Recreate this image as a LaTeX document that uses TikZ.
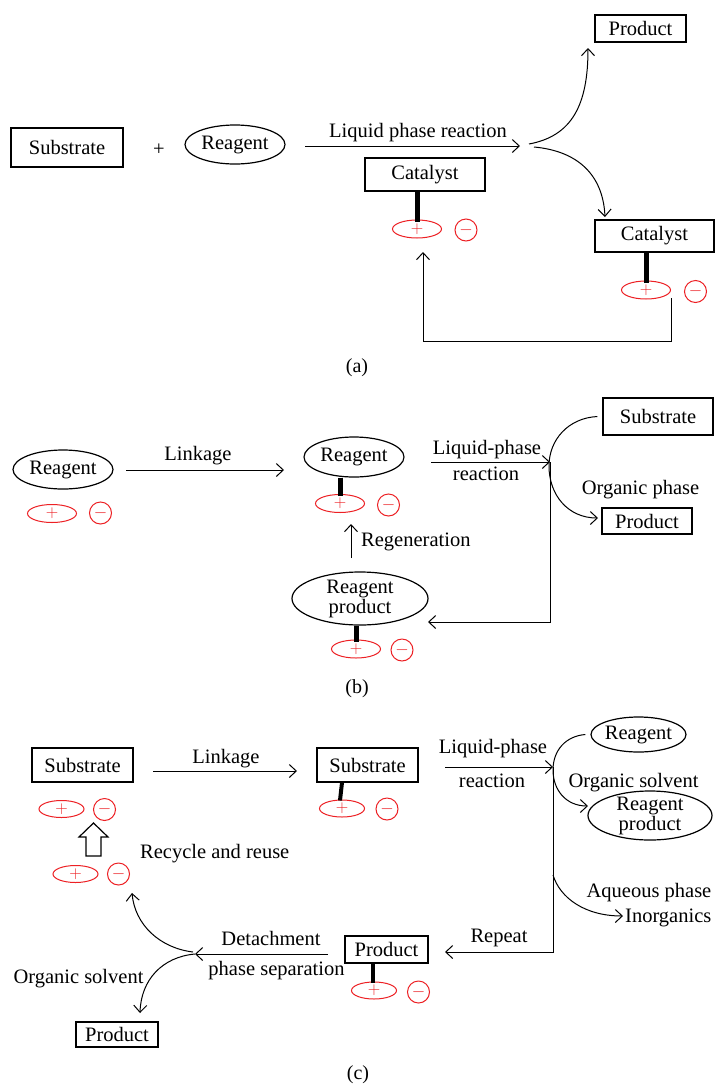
\documentclass[tikz,border=0pt]{standalone}
\usepackage{fontspec}
\setmainfont{Liberation Serif}
\usetikzlibrary{arrows.meta,shapes.geometric}
\newcommand\myfs{\fontsize{20.5}{20}\selectfont}
\newcommand\ionfs{\fontsize{16}{16}\selectfont}
\newcommand\capfs{\fontsize{20}{20}\selectfont}
\definecolor{ionred}{RGB}{237,32,36}
\begin{document}
\begin{tikzpicture}[x=1pt,y=-1pt,font=\myfs,
 mybox/.style={draw,line width=1.2pt,inner sep=0pt},
 myell/.style={ellipse,draw,line width=1.2pt,inner sep=0pt},
 ionpos/.style={ellipse,draw=ionred,line width=1pt,minimum width=49pt,minimum height=18pt,inner sep=0pt,text=ionred,font=\ionfs},
 ionneg/.style={circle,draw=ionred,line width=1pt,minimum size=22pt,inner sep=0pt,text=ionred,font=\ionfs},
 thickbar/.style={line width=5pt},
 myarr/.style={line width=1pt,-{Straight Barb[length=7pt,width=13pt,line width=1pt]}},
 mylbl/.style={anchor=base,inner sep=0pt}]
\useasboundingbox (0,0) rectangle (715,1085);
\fill[white] (0,0) rectangle (715,1085);
% ---------------- (a)
\node[mybox,minimum width=112pt,minimum height=39pt] (sA) at (67,147.5) {Substrate};
\node (plusA) at (159,150) {+};
\node[myell,minimum width=100pt,minimum height=39pt] (rA) at (235,144.5) {Reagent};
\coordinate (aS) at (305,146);
\coordinate (aT) at (520,146);
\draw[myarr] (aS) -- (aT);
\node[mylbl] (tLPR) at (418,137) {Liquid phase reaction};
\node[mybox,minimum width=91pt,minimum height=27pt] (pA) at (640.5,28.5) {Product};
\node[mybox,minimum width=120pt,minimum height=33pt] (cA) at (425,174.5) {Catalyst};
\node[mybox,minimum width=119pt,minimum height=32pt] (cB) at (654.5,236) {Catalyst};
\node[ionpos] (ipA1) at (417,229) {$+$};
\node[ionneg] (inA1) at (466,230) {$-$};
\node[ionpos] (ipA2) at (646,290) {$+$};
\node[ionneg] (inA2) at (695.5,291.5) {$-$};
\draw[thickbar] (ipA1.north |- cA.south) -- ([yshift=-2pt]ipA1.north);
\draw[thickbar] (ipA2.north |- cB.south) -- ([yshift=-2pt]ipA2.north);
\coordinate (jA1) at (529,144);
\coordinate (jA2) at (534,147);
\coordinate (tPA) at (588,48);
\coordinate (tCB) at (605,217);
\draw[myarr] (jA1) .. controls (572,136) and (588,105) .. (tPA);
\draw[myarr] (jA2) .. controls (578,151) and (603,175) .. (tCB);
\coordinate (lpR) at (671,341);
\coordinate (lpL) at (423,341);
\coordinate (tIA) at (423,252);
\draw[myarr] ([yshift=-8pt]ipA2.east) -- (lpR) -- (lpL) -- (tIA);
\node[font=\capfs] (labA) at (357,368) {(a)};
% ---------------- (b)
\node[myell,minimum width=100pt,minimum height=39pt] (rB1) at (63,469.5) {Reagent};
\node[ionpos] (ipB1) at (52,513.5) {$+$};
\node[ionneg] (inB1) at (100.5,513) {$-$};
\coordinate (lkB1) at (126,470);
\coordinate (lkB2) at (284,470);
\draw[myarr] (lkB1) -- (lkB2);
\node[mylbl] (tLkB) at (198,460) {Linkage};
\node[myell,minimum width=100pt,minimum height=40pt] (rB2) at (354,457) {Reagent};
\node[ionpos] (ipB2) at (340,503.5) {$+$};
\node[ionneg] (inB2) at (388.5,505) {$-$};
\draw[thickbar] (ipB2.north |- rB2.south) -- ([yshift=-2pt]ipB2.north);
\coordinate (rgS) at (351,558);
\coordinate (rgT) at (351,524);
\draw[myarr] (rgS) -- (rgT);
\node[mylbl,anchor=base west] (tRg) at (361,546) {Regeneration};
\node[myell,minimum width=136pt,minimum height=53pt,align=center,inner ysep=-3pt] (rpB) at (360,598.5) {Reagent\\product};
\node[ionpos] (ipB3) at (356,649) {$+$};
\node[ionneg] (inB3) at (402,650) {$-$};
\draw[thickbar] (ipB3.north |- rpB.south) -- ([yshift=-2pt]ipB3.north);
\coordinate (lqB1) at (431,462);
\coordinate (jB) at (550,462);
\draw[myarr] (lqB1) -- (jB);
\node[mylbl] (tLqB) at (487,454) {Liquid-phase};
\node[mylbl] (tRxB) at (486,480) {reaction};
\node[mybox,minimum width=110pt,minimum height=37pt] (sB) at (658,416.5) {Substrate};
\node[mybox,minimum width=90pt,minimum height=26pt] (pB) at (647,521) {Product};
\node[mylbl] (tOpB) at (640.5,494) {Organic phase};
\coordinate (tPB) at (598,518);
\draw[myarr] ([xshift=-5pt]sB.west) .. controls (568,418) and (549,440) .. (549,466) .. controls (549,495) and (568,518) .. (tPB);
\coordinate (dnB) at (550,622);
\coordinate (tRpB) at (428,622);
\draw[myarr] (jB) -- (dnB) -- (tRpB);
\node[font=\capfs] (labB) at (357,689) {(b)};
% ---------------- (c)
\node[mybox,minimum width=101pt,minimum height=34pt] (sC1) at (82.5,765) {Substrate};
\node[ionpos,minimum width=45pt,minimum height=17pt] (ipC1) at (61.5,809) {$+$};
\node[ionneg] (inC1) at (104.5,809.5) {$-$};
\draw[line width=1.2pt] (86,856) -- (86,837) -- (79,837) -- (93.5,823) -- (108,837) -- (101,837) -- (101,856) -- cycle;
\node[ionpos,minimum width=45pt,minimum height=17pt] (ipC2) at (75.5,874) {$+$};
\node[ionneg] (inC2) at (118.5,874) {$-$};
\node[mylbl,anchor=base west] (tRec) at (140,858) {Recycle and reuse};
\coordinate (lkC1) at (153,771);
\coordinate (lkC2) at (297,771);
\draw[myarr] (lkC1) -- (lkC2);
\node[mylbl] (tLkC) at (226,763) {Linkage};
\node[mybox,minimum width=101pt,minimum height=34pt] (sC2) at (367.5,765) {Substrate};
\node[ionpos,minimum width=45pt,minimum height=17pt] (ipC3) at (342,808.5) {$+$};
\node[ionneg] (inC3) at (387,809) {$-$};
\draw[thickbar,line width=4pt] ([xshift=-25.5pt]sC2.south) -- ([xshift=-2pt,yshift=-1pt]ipC3.north);
\coordinate (lqC1) at (445,767);
\coordinate (jC) at (553,767);
\draw[myarr] (lqC1) -- (jC);
\node[mylbl] (tLqC) at (493,753) {Liquid-phase};
\node[mylbl] (tRxC) at (492,787) {reaction};
\node[myell,minimum width=91pt,minimum height=35pt] (rC) at (638.5,734.5) {Reagent};
\node[myell,minimum width=124pt,minimum height=49pt,align=center,inner ysep=-4pt] (rpC) at (650,815.5) {Reagent\\product};
\node[mylbl] (tOsC) at (633.5,787) {Organic solvent};
\coordinate (tRpC) at (588,806);
\draw[myarr] ([xshift=-5pt]rC.west) .. controls (566,736) and (553,750) .. (553,770) .. controls (553,790) and (566,806) .. (tRpC);
\coordinate (aqS) at (553,875);
\coordinate (tInC) at (623,916);
\draw[myarr] (aqS) .. controls (560,898) and (585,916) .. (tInC);
\node[mylbl] (tAq) at (649,897) {Aqueous phase};
\node[mylbl,anchor=base west] (tIn) at (625,922) {Inorganics};
\coordinate (dnC) at (553,952);
\coordinate (tPC) at (445,952);
\draw[myarr] (jC) -- (dnC) -- (tPC);
\node[mylbl] (tRp) at (499,942) {Repeat};
\node[mybox,minimum width=83pt,minimum height=27pt] (pC) at (386.5,949.5) {Product};
\node[ionpos,minimum width=45pt,minimum height=17pt] (ipC4) at (374,990.5) {$+$};
\node[ionneg] (inC4) at (418.5,992) {$-$};
\draw[thickbar,line width=4pt] ([xshift=-13.5pt]pC.south) -- ([xshift=-1pt,yshift=-1pt]ipC4.north);
\coordinate (dtS) at (328,954);
\coordinate (jD) at (195,954);
\coordinate (jD2) at (193,952);
\draw[myarr] (dtS) -- (jD);
\node[mylbl] (tDt) at (271,945) {Detachment};
\node[mylbl] (tPs) at (276.5,975) {phase separation};
\coordinate (tIC2) at (132,893);
\coordinate (tPC2) at (140,1013);
\draw[myarr] (jD2) .. controls (160,948) and (135,925) .. (tIC2);
\draw[myarr] (jD) .. controls (162,957) and (141,980) .. (tPC2);
\node[mylbl] (tOsL) at (78.5,983) {Organic solvent};
\node[mybox,minimum width=82pt,minimum height=25pt] (pC2) at (117,1034.5) {Product};
\node[font=\capfs] (labC) at (358,1075) {(c)};
\end{tikzpicture}
\end{document}
